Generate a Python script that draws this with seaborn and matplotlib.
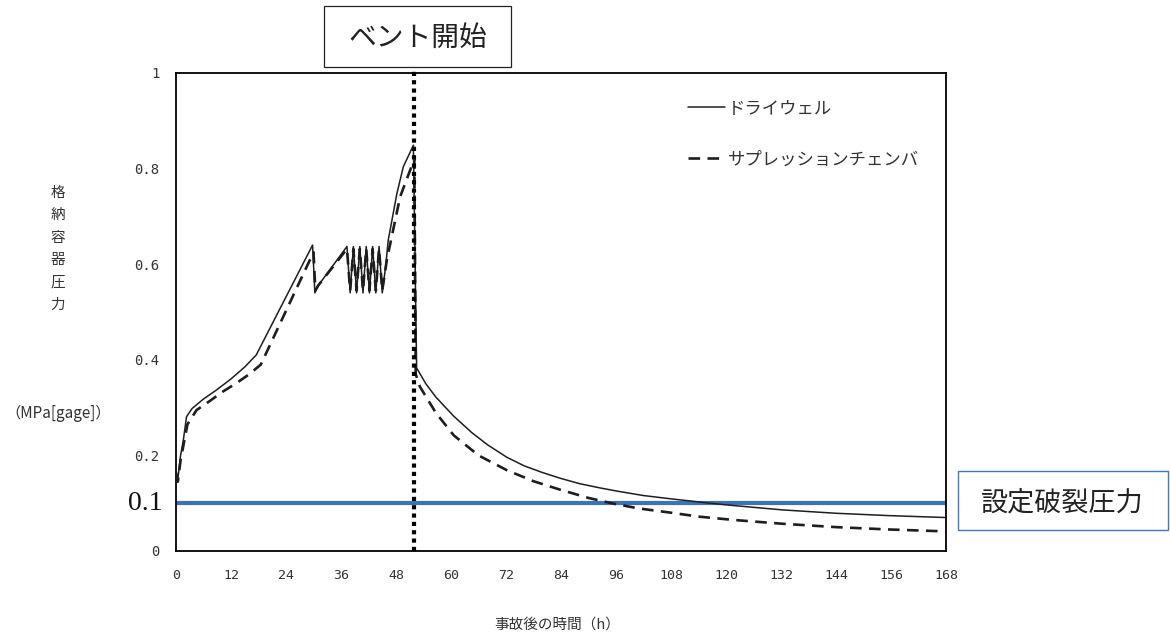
import matplotlib
matplotlib.use("Agg")
import matplotlib.pyplot as plt
from matplotlib.patches import Rectangle
from matplotlib.lines import Line2D
import matplotlib.transforms as mtransforms
import pandas as pd
import seaborn as sns

# --- data -------------------------------------------------------------
# Drywell pressure (MPa[gage]) vs hours after the accident
dw_time = [0.0, 0.4, 1.0, 1.6, 2.3, 3.5, 6.0, 9.0, 12.0, 15.0, 17.5, 29.8, 30.3, 31.0,
           37.3, 38.0, 38.7, 39.4, 40.1, 40.8, 41.5, 42.2, 42.9, 43.6, 44.3, 45.0,
           45.8, 46.3, 48.2, 49.6, 51.8, 52.5, 54.5, 56.7, 60.6, 64.5, 68.0, 72.2, 76.0,
           80.0, 83.9, 88.0, 92.5, 96.4, 102.0, 108.1, 116.5, 120.6, 132.3, 143.9, 155.6, 168.0]
dw_pressure = [0.17, 0.15, 0.20, 0.232, 0.281, 0.298, 0.318, 0.338, 0.36, 0.385, 0.41, 0.64, 0.54, 0.555,
               0.637, 0.54, 0.637, 0.54, 0.637, 0.54, 0.637, 0.54, 0.637, 0.54, 0.637, 0.54,
               0.60, 0.65, 0.748, 0.804, 0.849, 0.383, 0.35, 0.322, 0.282, 0.248, 0.222, 0.196, 0.178,
               0.164, 0.152, 0.141, 0.132, 0.125, 0.116, 0.109, 0.10, 0.096, 0.086, 0.079, 0.074, 0.070]

# Suppression chamber pressure
sc_time = [0.0, 0.4, 1.0, 1.6, 2.5, 4.5, 7.4, 10.3, 13.0, 16.0, 18.5, 30.0, 30.4, 31.0,
           37.3, 38.0, 38.7, 39.4, 40.1, 40.8, 41.5, 42.2, 42.9, 43.6, 44.3, 45.0,
           46.0, 48.9, 51.1, 52.0, 52.3, 53.2, 56.7, 60.6, 66.0, 72.2, 78.0, 83.9, 90.0,
           95.5, 101.0, 108.1, 114.0, 121.6, 132.3, 143.9, 155.6, 168.0]
sc_pressure = [0.16, 0.145, 0.19, 0.22, 0.265, 0.295, 0.314, 0.334, 0.35, 0.37, 0.39, 0.625, 0.545, 0.555,
               0.632, 0.545, 0.632, 0.545, 0.632, 0.545, 0.632, 0.545, 0.632, 0.545, 0.632, 0.545,
               0.609, 0.741, 0.797, 0.82, 0.37, 0.344, 0.289, 0.242, 0.200, 0.169, 0.146, 0.128, 0.111,
               0.099, 0.089, 0.080, 0.072, 0.065, 0.057, 0.050, 0.045, 0.041]

series_names = ["ドライウェル", "サプレッションチェンバ"]
vent_time = 52.0
rupture_pressure = 0.1

x_ticks = list(range(0, 169, 12))
y_ticks = [0, 0.2, 0.4, 0.6, 0.8, 1.0]
y_tick_labels = ["0", "0.2", "0.4", "0.6", "0.8", "1"]

ylabel_chars = ["格", "納", "容", "器", "圧", "力"]
ylabel_unit = "（MPa[gage]）"
xlabel = "事故後の時間（h）"
vent_label = "ベント開始"
rupture_label = "設定破裂圧力"

# --- style ------------------------------------------------------------
sns.set_style("white")
plt.rcParams["font.family"] = ["Noto Sans CJK JP", "DejaVu Sans"]

W, H = 1170, 637
fig = plt.figure(figsize=(W / 100, H / 100), dpi=100)
ax = fig.add_axes([176 / W, 1 - 551 / H, (946 - 176) / W, (551 - 73) / H])


def fx(px):
    return px / W


def fy(py):
    return 1 - py / H


dw = pd.DataFrame({"time": dw_time, "pressure": dw_pressure})
sc = pd.DataFrame({"time": sc_time, "pressure": sc_pressure})

line_color = "#1e1e1e"
sc_dash = (0, (4.4, 2.8))
sns.lineplot(data=dw, x="time", y="pressure", ax=ax, color=line_color,
             lw=1.1, sort=False, errorbar=None, zorder=3)
sns.lineplot(data=sc, x="time", y="pressure", ax=ax, color=line_color,
             lw=1.9, sort=False, errorbar=None, linestyle=sc_dash, zorder=3)

# rupture disc set pressure
blue = "#3b73b9"
ax.axhline(rupture_pressure, color=blue, lw=3, zorder=2)

# vent start
ax.axvline(vent_time, ymin=0, ymax=1.0126, color="black", lw=3,
           linestyle=(0, (1, 1)), clip_on=False, zorder=4)

ax.set_xlim(0, 168)
ax.set_ylim(0, 1.0)
ax.set_xticks(x_ticks)
ax.set_xticklabels([str(t) for t in x_ticks], family="DejaVu Sans Mono", fontsize=9.5)
ax.set_yticks(y_ticks)
ax.set_yticklabels(y_tick_labels, family="DejaVu Sans Mono", fontsize=10)
ax.tick_params(axis="both", direction="in", length=4, width=1, colors="black")
ax.tick_params(axis="x", pad=13, labelcolor="#333333")
ax.tick_params(axis="y", pad=12, labelcolor="#333333")
ax.set_xlabel("")
ax.set_ylabel("")
for s in ax.spines.values():
    s.set_color("black")
    s.set_linewidth(1.3)

# legend
handles = [Line2D([], [], color=line_color, lw=1.1),
           Line2D([], [], color=line_color, lw=1.9, linestyle=sc_dash)]
leg = ax.legend(handles, series_names, loc="upper left", bbox_to_anchor=(0.665, 0.945),
                frameon=False, fontsize=12.5, handlelength=2.1, handletextpad=0.2,
                labelspacing=1.9, borderpad=0, borderaxespad=0)
for t in leg.get_texts():
    t.set_color("#333333")

# "0.1" marker next to the rupture line
trans = mtransforms.blended_transform_factory(ax.transAxes, ax.transData)
ax.text(-0.017, rupture_pressure, "0.1", transform=trans, ha="right", va="center",
        family="Liberation Serif", fontsize=20, color="#111111")

# y axis label, stacked vertically
for i, ch in enumerate(ylabel_chars):
    fig.text(fx(58), fy(193 + 22.4 * i), ch, ha="center", va="center",
             fontsize=10.5, color="#333333")
fig.text(fx(58), fy(413), ylabel_unit, ha="center", va="center", fontsize=11, color="#333333")

# x axis label
fig.text(fx(557), fy(625), xlabel, ha="center", va="center", fontsize=10.5, color="#333333")

# annotation boxes
fig.patches.append(Rectangle((fx(324), fy(67)), fx(511) - fx(324), fy(6) - fy(67),
                             transform=fig.transFigure, fill=True, facecolor="white",
                             edgecolor="#222222", lw=0.9, zorder=5))
fig.text(fx(417.5), fy(38), vent_label, ha="center", va="center", fontsize=20,
         color="#222222", zorder=6)

fig.patches.append(Rectangle((fx(958), fy(530)), fx(1168) - fx(958), fy(471) - fy(530),
                             transform=fig.transFigure, fill=True, facecolor="white",
                             edgecolor="#3f78bf", lw=1.0, zorder=5))
fig.text(fx(1062), fy(503), rupture_label, ha="center", va="center", fontsize=19.5,
         color="#222222", zorder=6)

fig.savefig("out.png", dpi=100, facecolor="white")
